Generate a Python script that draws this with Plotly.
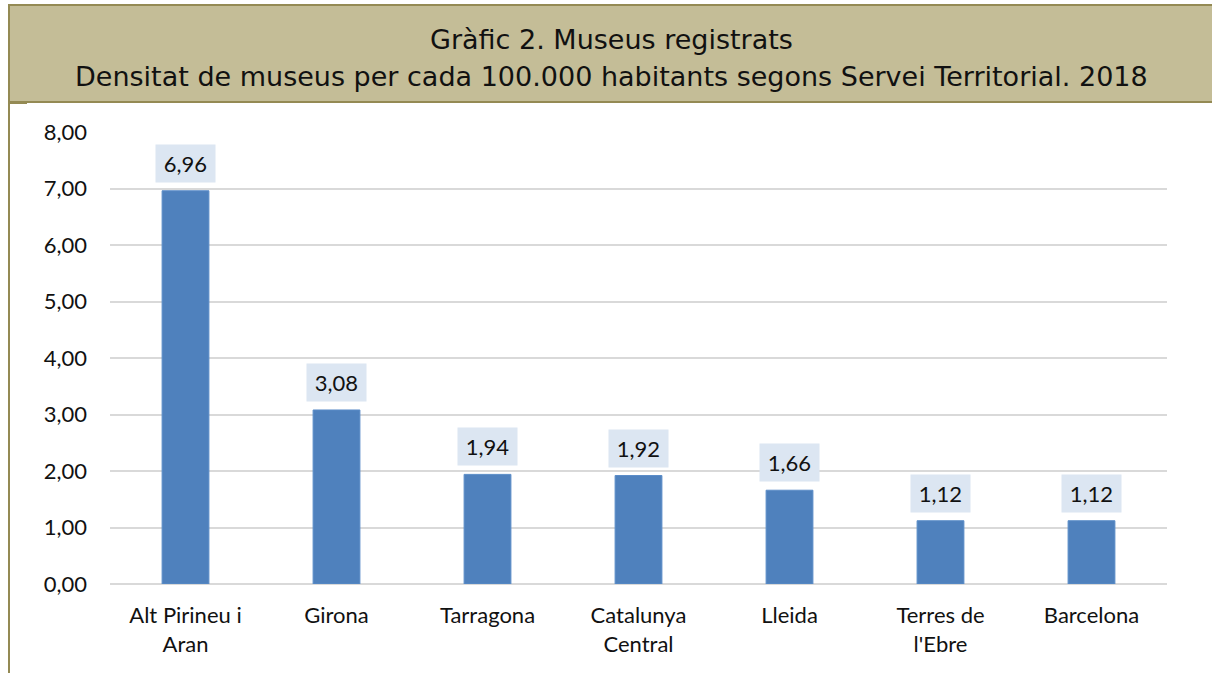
import plotly.graph_objects as go

categories = ["Alt Pirineu i<br>Aran", "Girona", "Tarragona", "Catalunya<br>Central",
              "Lleida", "Terres de<br>l'Ebre", "Barcelona"]
values = [6.96, 3.08, 1.94, 1.92, 1.66, 1.12, 1.12]
value_labels = ["6,96", "3,08", "1,94", "1,92", "1,66", "1,12", "1,12"]
y_ticks = [0, 1, 2, 3, 4, 5, 6, 7, 8]
title_line1 = "Gràfic 2. Museus registrats"
title_line2 = "Densitat de museus per cada 100.000 habitants segons Servei Territorial. 2018"

W, H = 1212, 673
L, R, T, B = 110, 45, 132, 89
pw, ph = W - L - R, H - T - B

def px(x):
    return (x - L) / pw

def py(y):
    return (H - B - y) / ph

fig = go.Figure()
fig.add_trace(go.Bar(
    x=list(range(len(categories))), y=values,
    marker=dict(color="#4F81BD", line=dict(color="#5B8DC8", width=1)),
    width=0.31, hoverinfo="skip",
))

for i, (v, t) in enumerate(zip(values, value_labels)):
    fig.add_annotation(
        x=i, y=v, xref="x", yref="y", text=t, showarrow=False,
        yanchor="bottom", yshift=8, bgcolor="#DCE6F2",
        width=53, height=31, borderpad=3,
        font=dict(family="Lato", size=22, color="#111111"),
    )

border = "#948A54"
fig.add_shape(type="rect", xref="paper", yref="paper",
              x0=px(9), x1=px(1216), y0=py(102), y1=py(5),
              fillcolor="#C4BD97", line=dict(color=border, width=2), layer="below")
fig.add_shape(type="line", xref="paper", yref="paper",
              x0=px(9), x1=px(9), y0=py(5), y1=py(680),
              line=dict(color=border, width=2))
fig.add_shape(type="line", xref="paper", yref="paper",
              x0=px(9), x1=px(27), y0=py(103), y1=py(103),
              line=dict(color=border, width=2))

fig.add_annotation(xref="paper", yref="paper", x=px(611), y=py(40),
                   text=title_line1, showarrow=False, xanchor="center", yanchor="middle",
                   font=dict(family="DejaVu Sans", size=27, color="#111111"))
fig.add_annotation(xref="paper", yref="paper", x=px(611), y=py(76),
                   text=title_line2, showarrow=False, xanchor="center", yanchor="middle",
                   font=dict(family="DejaVu Sans", size=27, color="#111111"))

fig.update_layout(
    width=W, height=H, margin=dict(l=L, r=R, t=T, b=B, autoexpand=False),
    paper_bgcolor="white", plot_bgcolor="white",
    separators=",.", showlegend=False,
    font=dict(family="Lato", size=22, color="#111111"),
)
fig.update_xaxes(
    range=[-0.5, len(categories) - 0.5], tickmode="array",
    tickvals=list(range(len(categories))), ticktext=categories,
    showgrid=False, showline=False, zeroline=False, ticks="",
    ticklabelstandoff=16,
)
fig.update_yaxes(
    range=[0, 8], tickmode="array", tickvals=y_ticks, tickformat=".2f",
    showgrid=True, gridcolor="#D9D9D9", gridwidth=1.5,
    zeroline=True, zerolinecolor="#D9D9D9", zerolinewidth=1.5,
    showline=False, ticks="", ticklabelstandoff=22,
)

fig.write_html("out.html", config={"displayModeBar": False},
               post_script="document.body.style.margin='0';")
